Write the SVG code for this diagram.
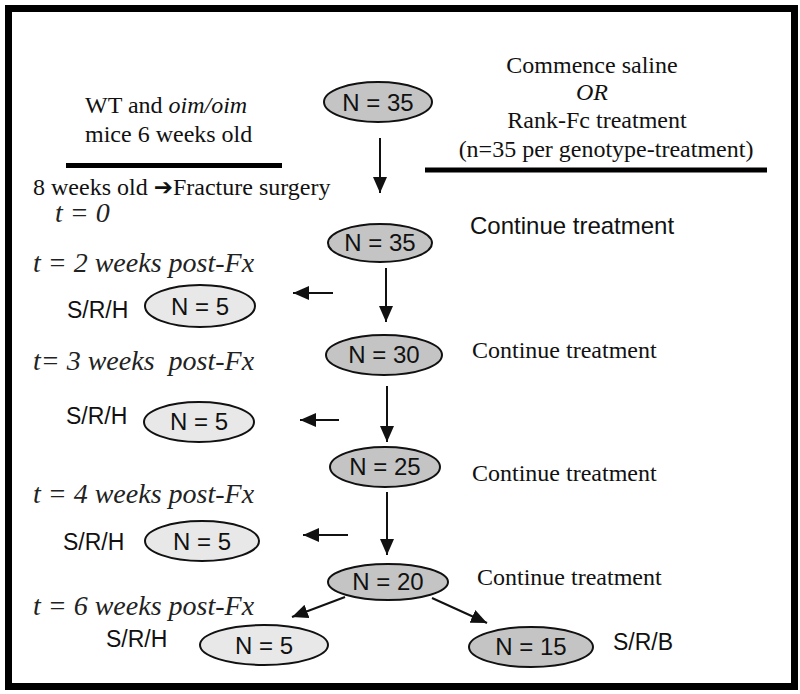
<svg xmlns="http://www.w3.org/2000/svg" width="800" height="694" viewBox="0 0 800 694">
<style>
.serif{font-family:"Liberation Serif","Times New Roman",serif;font-size:24px;fill:#111}
.ital{font-family:"Liberation Serif","Times New Roman",serif;font-style:italic;font-size:28px;fill:#222}
.sans{font-family:"Liberation Sans",Arial,sans-serif;font-size:24px;fill:#111}
.srh{font-family:"Liberation Sans",Arial,sans-serif;font-size:23px;fill:#111}
.dark{fill:#c4c4c4;stroke:#111;stroke-width:2}
.light{fill:#e8e8e8;stroke:#111;stroke-width:2}
.conn line{stroke:#111;stroke-width:2;marker-end:url(#ah)}
.rule{stroke:#000;stroke-width:5}
</style>
<defs>
<marker id="ah" markerUnits="userSpaceOnUse" markerWidth="16" markerHeight="14" refX="16" refY="7" orient="auto">
<path d="M0,0 L16,7 L0,14 z" fill="#111"/>
</marker>
</defs>
<rect width="800" height="694" fill="#fff"/>
<rect x="8.5" y="8.5" width="786" height="678" fill="none" stroke="#000" stroke-width="7"/>

<g id="header-left">
<text class="serif" x="85" y="113">WT and <tspan font-style="italic">oim/oim</tspan></text>
<text class="serif" x="85" y="142">mice 6 weeks old</text>
<line class="rule" x1="66" y1="165.5" x2="282" y2="165.5"/>
<text class="serif" x="33" y="195">8 weeks old <tspan font-family="DejaVu Sans" font-size="23">➔</tspan>Fracture surgery</text>
<text class="ital" x="55" y="222">t = 0</text>
</g>

<g id="header-right">
<text class="serif" x="592" y="73" text-anchor="middle">Commence saline</text>
<text class="serif" x="592" y="100" text-anchor="middle" font-style="italic">OR</text>
<text class="serif" x="597" y="128" text-anchor="middle">Rank-Fc treatment</text>
<text class="serif" x="606" y="157" text-anchor="middle">(n=35 per genotype-treatment)</text>
<line class="rule" x1="425" y1="170" x2="767" y2="170"/>
</g>

<g id="n35a"><ellipse class="dark" cx="378" cy="102" rx="54" ry="20"/><text class="sans" x="378" y="111" text-anchor="middle">N = 35</text></g>
<g id="n35b"><ellipse class="dark" cx="380" cy="243" rx="52" ry="19"/><text class="sans" x="380" y="251" text-anchor="middle">N = 35</text></g>
<text class="sans" x="470" y="234">Continue treatment</text>

<g id="n30"><ellipse class="dark" cx="384" cy="355" rx="58" ry="20"/><text class="sans" x="384" y="363" text-anchor="middle">N = 30</text></g>
<text class="serif" x="472" y="358">Continue treatment</text>

<g id="n25"><ellipse class="dark" cx="385" cy="467" rx="55" ry="20"/><text class="sans" x="385" y="475" text-anchor="middle">N = 25</text></g>
<text class="serif" x="472" y="481">Continue treatment</text>

<g id="n20"><ellipse class="dark" cx="388" cy="582" rx="60" ry="18"/><text class="sans" x="388" y="590" text-anchor="middle">N = 20</text></g>
<text class="serif" x="477" y="585">Continue treatment</text>

<g id="n15"><ellipse class="dark" cx="531" cy="647" rx="62" ry="20"/><text class="sans" x="531" y="655" text-anchor="middle">N = 15</text></g>
<text class="srh" x="613" y="650">S/R/B</text>

<g id="wk2">
<text class="ital" x="33" y="272">t = 2 weeks post-Fx</text>
<text class="srh" x="67" y="318">S/R/H</text>
<ellipse class="light" cx="200" cy="306" rx="55" ry="21"/><text class="sans" x="200" y="315" text-anchor="middle">N = 5</text>
</g>
<g id="wk3">
<text class="ital" x="33" y="370" xml:space="preserve">t= 3 weeks  post-Fx</text>
<text class="srh" x="66" y="424">S/R/H</text>
<ellipse class="light" cx="199" cy="422" rx="55" ry="20"/><text class="sans" x="199" y="430" text-anchor="middle">N = 5</text>
</g>
<g id="wk4">
<text class="ital" x="33" y="503">t = 4 weeks post-Fx</text>
<text class="srh" x="63" y="550">S/R/H</text>
<ellipse class="light" cx="202" cy="541" rx="57" ry="20"/><text class="sans" x="202" y="550" text-anchor="middle">N = 5</text>
</g>
<g id="wk6">
<text class="ital" x="33" y="615">t = 6 weeks post-Fx</text>
<text class="srh" x="106" y="647">S/R/H</text>
<ellipse class="light" cx="264" cy="645" rx="64" ry="20"/><text class="sans" x="264" y="654" text-anchor="middle">N = 5</text>
</g>

<g id="connectors" class="conn">
<line x1="380" y1="138" x2="380" y2="193"/>
<line x1="386" y1="268" x2="386" y2="322"/>
<line x1="387" y1="386" x2="387" y2="442"/>
<line x1="387" y1="492" x2="387" y2="555"/>
<line x1="333" y1="293" x2="293" y2="293"/>
<line x1="339" y1="420" x2="300" y2="420"/>
<line x1="348" y1="535" x2="303" y2="535"/>
<line x1="345" y1="597" x2="292" y2="617"/>
<line x1="432" y1="598" x2="487" y2="623"/>
</g>
</svg>
